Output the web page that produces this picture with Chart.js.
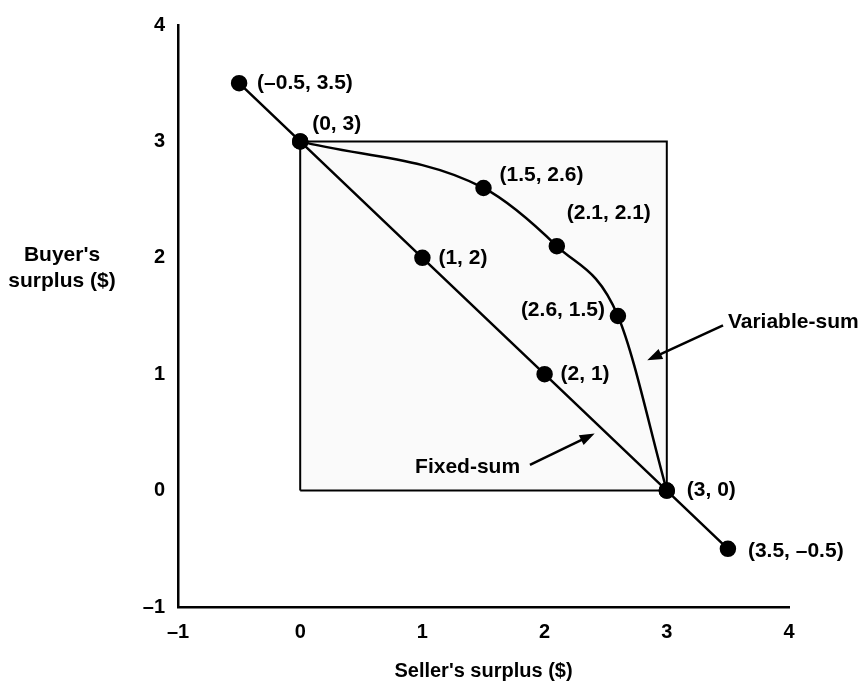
<!DOCTYPE html>
<html>
<head>
<meta charset="utf-8">
<script src="https://cdn.jsdelivr.net/npm/chart.js@4/dist/chart.umd.min.js"></script>
<style>
  body { margin: 0; background: #fff; }
  #wrap { width: 864px; height: 688px; }
</style>
</head>
<body>
<div id="wrap"><canvas id="myChart"></canvas></div>
<script>
// data
var fixedX = [-0.5, 0, 1, 2, 3, 3.5];
var fixedY = [3.5, 3, 2, 1, 0, -0.5];
var variableX = [0, 1.5, 2.1, 2.6, 3];
var variableY = [3, 2.6, 2.1, 1.5, 0];
var boxX = [0, 0, 3, 3, 0];
var boxY = [0, 3, 3, 0, 0];
var axisMin = -1, axisMax = 4;
var xTitle = "Seller's surplus ($)";
var yTitle = ["Buyer's", "surplus ($)"];
var fixedName = 'Fixed-sum';
var variableName = 'Variable-sum';

// label placement (pixel offsets from the point, alignment)
var fixedLabelPos = [[18, 0, 'left'], [12, -17, 'left'], [16, 0, 'left'], [16, 0, 'left'], [20, 0, 'left'], [20, 2, 'left']];
var variableLabelPos = [null, [16, -13, 'left'], [10, -33, 'left'], [-13, -6, 'right'], null];

var FAMILY = '"Liberation Sans", Arial, sans-serif';
var FONT = 'bold 21px ' + FAMILY;

function fmt(v) {
    return v < 0 ? '\u2013' + (-v) : '' + v;
}
function toPoints(xs, ys) {
    return xs.map(function(x, i) { return {x: x, y: ys[i]}; });
}

function drawArrow(ctx, x1, y1, x2, y2) {
    var a = Math.atan2(y2 - y1, x2 - x1);
    var hl = 15, hw = 5.5;
    ctx.beginPath();
    ctx.moveTo(x1, y1);
    ctx.lineTo(x2 - Math.cos(a) * hl * 0.7, y2 - Math.sin(a) * hl * 0.7);
    ctx.lineWidth = 2.5;
    ctx.stroke();
    ctx.beginPath();
    ctx.moveTo(x2, y2);
    ctx.lineTo(x2 - hl * Math.cos(a) + hw * Math.sin(a), y2 - hl * Math.sin(a) - hw * Math.cos(a));
    ctx.lineTo(x2 - hl * Math.cos(a) - hw * Math.sin(a), y2 - hl * Math.sin(a) + hw * Math.cos(a));
    ctx.closePath();
    ctx.fill();
}

var annotations = {
    id: 'annotations',
    afterDatasetsDraw: function(chart) {
        var ctx = chart.ctx, sx = chart.scales.x, sy = chart.scales.y;
        ctx.save();
        ctx.font = FONT;
        ctx.fillStyle = '#000';
        ctx.strokeStyle = '#000';
        ctx.textBaseline = 'middle';

        function pointLabels(xs, ys, pos) {
            xs.forEach(function(x, i) {
                var p = pos[i];
                if (!p) return;
                ctx.textAlign = p[2];
                ctx.fillText('(' + fmt(x) + ', ' + fmt(ys[i]) + ')',
                    sx.getPixelForValue(x) + p[0], sy.getPixelForValue(ys[i]) + p[1]);
            });
        }
        pointLabels(fixedX, fixedY, fixedLabelPos);
        pointLabels(variableX, variableY, variableLabelPos);

        // curve / line names with arrows
        ctx.textAlign = 'left';
        ctx.fillText(variableName, sx.getPixelForValue(3.5), sy.getPixelForValue(1.45));
        drawArrow(ctx, sx.getPixelForValue(3.46), sy.getPixelForValue(1.42),
                       sx.getPixelForValue(2.84), sy.getPixelForValue(1.12));
        ctx.fillText(fixedName, sx.getPixelForValue(0.94), sy.getPixelForValue(0.2));
        drawArrow(ctx, sx.getPixelForValue(1.88), sy.getPixelForValue(0.22),
                       sx.getPixelForValue(2.41), sy.getPixelForValue(0.49));

        // y axis title, written across
        ctx.textAlign = 'center';
        ctx.fillText(yTitle[0], 62, 255);
        ctx.fillText(yTitle[1], 62, 281);
        ctx.restore();
    }
};

var myChart = new Chart(document.getElementById('myChart').getContext('2d'), {
    type: 'line',
    data: {
        datasets: [
            {
                label: variableName,
                data: toPoints(variableX, variableY),
                borderColor: '#000',
                backgroundColor: '#000',
                borderWidth: 2.5,
                pointRadius: 7,
                pointHoverRadius: 7,
                cubicInterpolationMode: 'monotone',
                fill: false
            },
            {
                label: fixedName,
                data: toPoints(fixedX, fixedY),
                borderColor: '#000',
                backgroundColor: '#000',
                borderWidth: 2.5,
                pointRadius: 7,
                pointHoverRadius: 7,
                tension: 0,
                fill: false
            },
            {
                label: 'box',
                data: toPoints(boxX, boxY),
                borderColor: '#000',
                backgroundColor: 'rgba(0,0,0,0.018)',
                borderWidth: 2,
                pointRadius: 0,
                tension: 0,
                fill: 'shape'
            }
        ]
    },
    options: {
        responsive: true,
        maintainAspectRatio: false,
        animation: false,
        layout: { padding: { top: 21, right: 75, left: 0, bottom: 0 } },
        plugins: {
            legend: { display: false },
            tooltip: { enabled: false }
        },
        scales: {
            x: {
                type: 'linear',
                min: axisMin,
                max: axisMax,
                grid: { display: false, drawTicks: false },
                border: { display: true, color: '#000', width: 2.5 },
                ticks: {
                    stepSize: 1,
                    autoSkip: false,
                    maxRotation: 0,
                    color: '#000',
                    padding: 13,
                    font: { family: FAMILY, size: 20, weight: 'bold' },
                    callback: function(v) { return fmt(v); }
                },
                title: {
                    display: true,
                    text: xTitle,
                    color: '#000',
                    padding: { top: 0, bottom: 5 },
                    font: { family: FAMILY, size: 20, weight: 'bold' }
                },
                afterFit: function(s) { s.height = 81; }
            },
            y: {
                type: 'linear',
                min: axisMin,
                max: axisMax,
                grid: { display: false, drawTicks: false },
                border: { display: true, color: '#000', width: 2.5 },
                ticks: {
                    stepSize: 1,
                    autoSkip: false,
                    color: '#000',
                    padding: 13,
                    font: { family: FAMILY, size: 20, weight: 'bold' },
                    callback: function(v) { return fmt(v); }
                },
                afterFit: function(s) { s.width = 178; }
            }
        }
    },
    plugins: [annotations]
});
</script>
</body>
</html>
